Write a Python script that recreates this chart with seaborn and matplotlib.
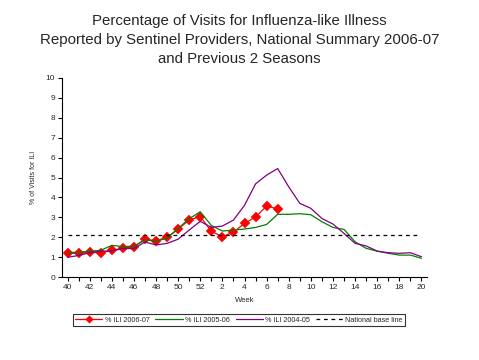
import pandas as pd
import seaborn as sns
import matplotlib
matplotlib.use("Agg")
import matplotlib.pyplot as plt

# weeks: 40..52 then 1..20
weeks = list(range(40, 53)) + list(range(1, 21))
tick_labels = [str(w) if w % 2 == 0 else "" for w in weeks]

ili_2006_07 = [1.19, 1.19, 1.24, 1.22, 1.34, 1.44, 1.52, 1.90, 1.82, 2.00,
               2.40, 2.87, 3.04, 2.30, 2.02, 2.26, 2.69, 3.02, 3.56, 3.43]
ili_2005_06 = [1.24, 1.24, 1.30, 1.34, 1.59, 1.53, 1.55, 1.86, 1.81, 1.94,
               2.44, 2.93, 3.28, 2.59, 2.31, 2.36, 2.41, 2.49, 2.64, 3.15,
               3.15, 3.18, 3.13, 2.78, 2.49, 2.39, 1.77, 1.44, 1.30, 1.19,
               1.10, 1.10, 0.94]
ili_2004_05 = [0.99, 1.08, 1.22, 1.30, 1.31, 1.43, 1.43, 1.76, 1.61, 1.69,
               1.90, 2.36, 2.80, 2.49, 2.56, 2.86, 3.60, 4.68, 5.12, 5.45,
               4.53, 3.70, 3.45, 2.94, 2.66, 2.19, 1.69, 1.56, 1.30, 1.22,
               1.19, 1.22, 1.02]
baseline = 2.1

sns.set_style("white")
plt.rcParams["font.family"] = ["Liberation Sans", "DejaVu Sans"]

fig = plt.figure(figsize=(4.79, 3.6), dpi=100)
ax = fig.add_axes([62 / 479, 1 - 277 / 360, 365 / 479, 199 / 360])

pos = list(range(len(weeks)))
sns.lineplot(x=pos[:len(ili_2006_07)], y=ili_2006_07, ax=ax, color="#FF0000",
             lw=0.9, marker="D", markersize=3.6, markeredgewidth=1.3,
             markeredgecolor="#FF0000", label="% ILI 2006-07")
sns.lineplot(x=pos, y=ili_2005_06, ax=ax, color="#008000", lw=0.9,
             label="% ILI 2005-06")
sns.lineplot(x=pos, y=ili_2004_05, ax=ax, color="#800080", lw=0.9,
             label="% ILI 2004-05")
ax.plot([0, len(weeks) - 1.3], [baseline, baseline], color="black", lw=0.9,
        ls=(0, (3, 3)), label="National base line")

ax.set_xlim(-0.5, len(weeks) - 0.5)
ax.set_ylim(0, 10)
ax.set_yticks(range(0, 11))
ax.set_xticks(pos)
ax.set_xticklabels(tick_labels, fontsize=6)
ax.tick_params(axis="y", labelsize=6)
ax.tick_params(axis="both", direction="out", length=3, width=0.8, color="black",
               left=True, bottom=True, pad=2)
for s in ["top", "right"]:
    ax.spines[s].set_visible(False)
for s in ["left", "bottom"]:
    ax.spines[s].set_color("black")
    ax.spines[s].set_linewidth(0.8)

ax.set_xlabel("Week", fontsize=5.5, labelpad=4)
ax.set_ylabel("% of Visits for ILI", fontsize=5, labelpad=6)

fig.suptitle("Percentage of Visits for Influenza-like Illness\n"
             "Reported by Sentinel Providers, National Summary 2006-07\n"
             "and Previous 2 Seasons", fontsize=10.8, y=0.96, linespacing=1.45)

handles, labels = ax.get_legend_handles_labels()
ax.get_legend().remove()
leg = fig.legend(handles, labels, loc="center", ncol=4,
                 bbox_to_anchor=(239 / 479, 1 - 320 / 360), fontsize=5.2,
                 frameon=True, fancybox=False, edgecolor="black",
                 handlelength=3.8, columnspacing=0.8, borderpad=0.35,
                 handletextpad=0.3, markerscale=0.8)
leg.get_frame().set_linewidth(0.8)

fig.savefig("out.png", dpi=100)
